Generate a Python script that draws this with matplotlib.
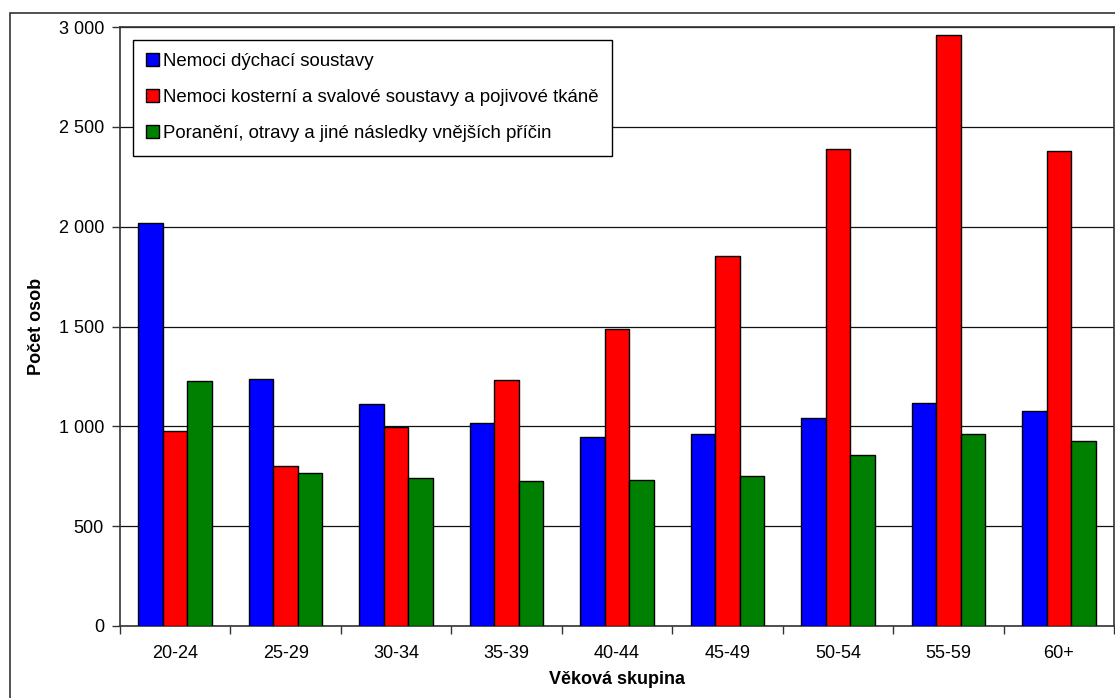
import matplotlib.pyplot as plt
import numpy as np
from matplotlib.patches import Rectangle
from matplotlib.ticker import FixedLocator, FuncFormatter

plt.rcParams['font.family'] = ['Liberation Sans', 'DejaVu Sans']

vekove_skupiny = ['20-24', '25-29', '30-34', '35-39', '40-44', '45-49', '50-54', '55-59', '60+']
dychaci = [2020, 1237, 1110, 1017, 945, 960, 1040, 1115, 1078]
kosterni = [976, 801, 997, 1232, 1486, 1853, 2387, 2959, 2379]
poraneni = [1225, 765, 743, 725, 731, 751, 855, 960, 926]

nazvy = ['Nemoci dýchací soustavy',
         'Nemoci kosterní a svalové soustavy a pojivové tkáně',
         'Poranění, otravy a jiné následky vnějších příčin']
barvy = ['#0000FF', '#FF0000', '#008000']

FS = 13
W, H = 1115, 698
fig = plt.figure(figsize=(W / 100, H / 100), dpi=100)
ax = fig.add_axes([120 / W, 1 - 626 / H, 994 / W, 599 / H])

x = np.arange(len(vekove_skupiny))
sirka = 1 / 4.5
for k, (hodnoty, nazev, barva) in enumerate(zip([dychaci, kosterni, poraneni], nazvy, barvy)):
    ax.bar(x + (k - 1) * sirka, hodnoty, sirka, color=barva, edgecolor='black',
           linewidth=1.0, label=nazev, zorder=3)

ax.set_xlim(-0.5, len(vekove_skupiny) - 0.5)
ax.set_ylim(0, 3000)
ax.set_yticks(np.arange(0, 3001, 500))
ax.yaxis.set_major_formatter(FuncFormatter(lambda v, _: f'{int(v):,}'.replace(',', ' ')))
ax.yaxis.grid(True, color='#111111', linewidth=0.9, zorder=0)

# hranice skupin jako hlavní značky, popisky uprostřed
ax.xaxis.set_major_locator(FixedLocator(np.arange(-0.5, len(vekove_skupiny), 1.0)))
ax.xaxis.set_major_formatter(FuncFormatter(lambda v, _: ''))
ax.xaxis.set_minor_locator(FixedLocator(x))
ax.set_xticklabels(vekove_skupiny, minor=True)
ax.tick_params(axis='x', which='minor', length=0, pad=14, labelsize=FS)
ax.tick_params(axis='x', which='major', length=6, width=1, color='#333333')
ax.tick_params(axis='y', length=6, width=1, color='#333333', pad=5.5, labelsize=FS)

for s in ax.spines.values():
    s.set_color('#333333')
    s.set_linewidth(1.2)

ax.set_xlabel('Věková skupina', fontsize=FS, fontweight='bold', labelpad=6)
ax.set_ylabel('Počet osob', fontsize=FS, fontweight='bold', labelpad=10)

leg = ax.legend(loc='upper left', bbox_to_anchor=(13 / 994, 1 - 13 / 599),
                prop={'size': 13.4}, frameon=True, fancybox=False, framealpha=1,
                edgecolor='black', borderpad=0.72, labelspacing=1.02,
                handlelength=0.68, handleheight=0.68, handletextpad=0.2,
                borderaxespad=0)
leg.get_frame().set_linewidth(1.0)

fig.patches.append(Rectangle((9.5 / W, -0.05), 1.1, 1 - 12.5 / H + 0.05,
                             transform=fig.transFigure, fill=False,
                             edgecolor='#333333', linewidth=1.2))

fig.savefig('out.png', dpi=100)
